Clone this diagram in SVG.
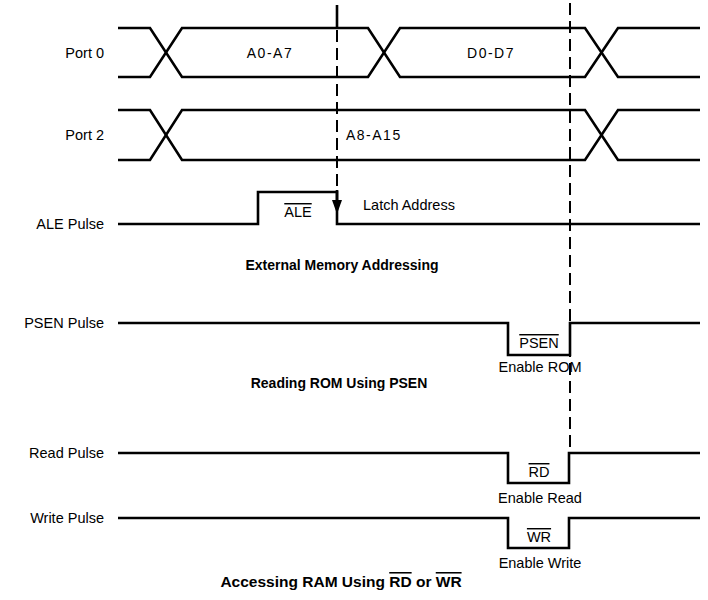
<svg xmlns="http://www.w3.org/2000/svg" width="708" height="600" viewBox="0 0 708 600">
<style>
.sig{fill:none;stroke:#000;stroke-width:2.6;stroke-linejoin:miter}
.dash{fill:none;stroke:#000;stroke-width:2;stroke-dasharray:12 6}
.lab{font-family:"Liberation Sans",Arial,sans-serif;font-size:14.5px;fill:#000}
.bus{font-family:"Liberation Sans",Arial,sans-serif;font-size:14px;fill:#000;letter-spacing:1.5px}
.ttl{font-family:"Liberation Sans",Arial,sans-serif;font-size:14px;font-weight:bold;fill:#000}
.ov{text-decoration:overline}
</style>
<rect width="708" height="600" fill="#fff"/>
<g id="port0">
<text class="lab" x="104" y="58" text-anchor="end">Port 0</text>
<path class="sig" d="M118,28 H150 L182,77 H368 L400,28 H585 L618,77 H700"/>
<path class="sig" d="M118,77 H150 L182,28 H368 L400,77 H585 L618,28 H700"/>
<text class="bus" x="270" y="58" text-anchor="middle">A0-A7</text>
<text class="bus" x="491" y="58" text-anchor="middle">D0-D7</text>
</g>
<g id="port2">
<text class="lab" x="104" y="140" text-anchor="end">Port 2</text>
<path class="sig" d="M118,110 H150 L182,160 H585 L618,110 H700"/>
<path class="sig" d="M118,160 H150 L182,110 H585 L618,160 H700"/>
<text class="bus" x="346" y="140">A8-A15</text>
</g>
<g id="ale">
<text class="lab" x="104" y="229" text-anchor="end">ALE Pulse</text>
<path class="sig" d="M118,224 H258 V192 H337 V224 H700"/>
<text class="lab ov" x="298" y="217" text-anchor="middle">ALE</text>
<text class="lab" x="363" y="210">Latch Address</text>
</g>
<text class="ttl" id="title1" x="342" y="270" text-anchor="middle">External Memory Addressing</text>
<g id="psen">
<text class="lab" x="104" y="328" text-anchor="end">PSEN Pulse</text>
<path class="sig" d="M118,323 H508 V355 H570 V323 H700"/>
<text class="lab ov" x="539" y="348" text-anchor="middle">PSEN</text>
<text class="lab" x="540" y="372" text-anchor="middle">Enable ROM</text>
</g>
<text class="ttl" id="title2" x="339" y="388" text-anchor="middle">Reading ROM Using PSEN</text>
<g id="read">
<text class="lab" x="104" y="458" text-anchor="end">Read Pulse</text>
<path class="sig" d="M118,453 H508 V483 H569 V453 H700"/>
<text class="lab ov" x="539" y="477" text-anchor="middle">RD</text>
<text class="lab" x="540" y="503" text-anchor="middle">Enable Read</text>
</g>
<g id="write">
<text class="lab" x="104" y="523" text-anchor="end">Write Pulse</text>
<path class="sig" d="M118,518 H508 V548 H569 V518 H700"/>
<text class="lab ov" x="539" y="542" text-anchor="middle">WR</text>
<text class="lab" x="540" y="568" text-anchor="middle">Enable Write</text>
</g>
<text class="ttl" id="title3" x="341" y="587" text-anchor="middle" style="font-size:15.5px">Accessing RAM Using <tspan class="ov">RD</tspan> or <tspan class="ov">WR</tspan></text>
<g id="connectors">
<line class="sig" x1="337" y1="5" x2="337" y2="27" stroke-width="2"/>
<line class="dash" x1="337" y1="30" x2="337" y2="190"/>
<line class="sig" x1="337" y1="190" x2="337" y2="203" stroke-width="2"/>
<polygon points="332,200 342,200 337,214" fill="#000"/>
<line class="dash" x1="570" y1="3" x2="570" y2="453"/>
</g>
</svg>
